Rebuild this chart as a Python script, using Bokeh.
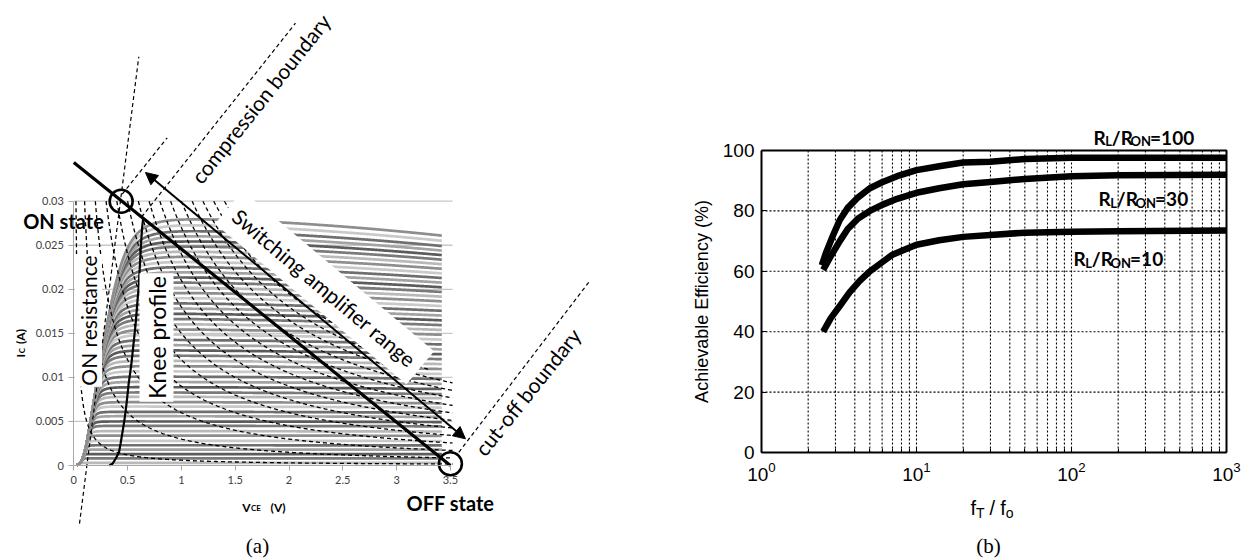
import numpy as np
from bokeh.plotting import figure
from bokeh.models import Range1d, LinearAxis, FixedTicker, Label, Arrow, NormalHead
from bokeh.layouts import row
from bokeh.embed import file_html
from bokeh.resources import INLINE

# ---------------- panel (a) data ----------------
vce_ticks = [0, 0.5, 1, 1.5, 2, 2.5, 3, 3.5]
vce_tick_labels = ["0", "0.5", "1", "1.5", "2", "2.5", "3", "3.5"]
ic_ticks = [0, 0.005, 0.01, 0.015, 0.02, 0.025, 0.03]
ic_tick_labels = ["0", "0.005", "0.01", "0.015", "0.02", "0.025", "0.03"]

# saturated collector current of each gray I-V trace (A)
ic_sat = [0.0003, 0.0008, 0.0013, 0.0018, 0.0023, 0.0028, 0.0034, 0.0039,
          0.0045, 0.0050, 0.0056, 0.0061, 0.0067, 0.0072, 0.0078, 0.0083,
          0.0089, 0.0095, 0.0101, 0.0107, 0.0113, 0.0119, 0.0125, 0.0131,
          0.0137, 0.0143, 0.0149, 0.0155, 0.0161, 0.0167, 0.0173, 0.0179,
          0.0185, 0.0191, 0.0197, 0.0203, 0.0209, 0.0215, 0.0221, 0.0227,
          0.0233, 0.0239, 0.0245, 0.0251, 0.0257, 0.0263, 0.0269, 0.0276, 0.0283]
curve_grays = ["#b9b9b9", "#7a7a7a", "#5c5c5c", "#a3a3a3", "#6f6f6f", "#c9c9c9", "#8e8e8e"]

# constant-power contours (W)
power_levels = [0.0006, 0.003, 0.006, 0.009, 0.012, 0.015, 0.018, 0.021,
                0.024, 0.027, 0.030, 0.033, 0.036, 0.039, 0.042]

knee_v = [0.33, 0.36, 0.39, 0.42, 0.435, 0.45, 0.47, 0.49, 0.51, 0.535, 0.555,
          0.575, 0.59, 0.605, 0.615, 0.625, 0.635, 0.645]
knee_i = [0.0, 0.0002, 0.0008, 0.0015, 0.0025, 0.0036, 0.0051, 0.0070, 0.0093,
          0.0115, 0.0138, 0.0161, 0.0184, 0.0206, 0.0229, 0.0252, 0.0270, 0.0281]

load_v = [0.0, 3.5]
load_i = [0.0344, 0.0]
state_v = [0.44, 3.5]
state_i = [0.0300, 0.0002]
onres_v = [0.053, 0.604]
onres_i = [-0.0066, 0.0464]
ray_v = [0.45, 0.868]
ray_i = [0.0308, 0.0372]
comp_v = [0.63, 2.06]
comp_i = [0.0282, 0.0502]
cutoff_v = [3.578, 4.786]
cutoff_i = [0.0015, 0.0208]
range_v = [0.666, 3.640]
range_i = [0.03326, 0.00303]

# ---------------- panel (b) data ----------------
ratio_100_x = [2.45, 2.6, 2.9, 3.2, 3.6, 4.2, 5.0, 6.0, 7.5, 10, 14, 20, 30, 50, 100, 200, 1000]
ratio_100_y = [62, 66, 72, 77, 81, 84.5, 87.5, 89.5, 91.5, 93.5, 94.8, 96, 96.3, 97.2, 97.6, 97.6, 97.6]
ratio_30_x = [2.5, 2.8, 3.2, 3.6, 4.2, 5.0, 6.0, 7.5, 10, 14, 20, 30, 50, 100, 200, 1000]
ratio_30_y = [60.5, 65, 70, 74, 77.5, 80, 82, 84, 86, 87.5, 88.8, 89.6, 90.6, 91.5, 91.8, 92]
ratio_10_x = [2.5, 2.8, 3.2, 3.7, 4.3, 5.0, 6.0, 7.0, 8.5, 10, 14, 20, 30, 50, 100, 200, 1000]
ratio_10_y = [40, 44.5, 48.5, 53, 56.8, 60, 63, 65.5, 67.3, 68.8, 70.3, 71.4, 72.0, 72.8, 73.1, 73.3, 73.5]
eff_ticks = [0, 20, 40, 60, 80, 100]
decades = [1, 10, 100, 1000]
ratio_names = ["100", "30", "10"]

# ---------------- helpers ----------------
LATO_B = {'R': .62, 'L': .50, 'O': .76, 'N': .74, '/': .37, '=': .58, ' ': .25}
ARIAL = {'f': .278, 'T': .611, 'o': .556, ' ': .278, '/': .278}


def text_w(s, size, table, default=0.58):
    return sum(table.get(c, default) for c in s) * size


# panel (a): page pixel -> data
AX0, AKX, AY0, AKY = 73.3, 107.6, 465.0, 8810.0


def pa_xy(px, py):
    return (px - AX0) / AKX, (AY0 - py) / AKY


# panel (b): page pixel -> data
BX0, BX3, BYT, BYB = 761.0, 1226.0, 150.0, 452.0


def pb_xy(px, py):
    return 10 ** (3 * (px - BX0) / (BX3 - BX0)), 100 * (BYB - py) / (BYB - BYT)


# ---------------- panel (a) ----------------
xr0, yr1 = pa_xy(0, 0)
xr1, yr0 = pa_xy(620, 560)
pa = figure(width=620, height=560, x_range=Range1d(xr0, xr1), y_range=Range1d(yr0, yr1),
            x_axis_type=None, y_axis_type=None, toolbar_location=None,
            output_backend="svg", min_border=0)
pa.outline_line_color = None

yax = LinearAxis(fixed_location=0, bounds=(0, 0.03), ticker=FixedTicker(ticks=ic_ticks),
                 major_label_overrides=dict(zip(ic_ticks, ic_tick_labels)))
xax = LinearAxis(fixed_location=0, bounds=(0, 3.5), ticker=FixedTicker(ticks=vce_ticks),
                 major_label_overrides=dict(zip(vce_ticks, vce_tick_labels)))
for ax in (xax, yax):
    ax.axis_line_color = "#a8a8a8"
    ax.major_tick_line_color = "#a8a8a8"
    ax.minor_tick_line_color = None
    ax.major_tick_out = 5
    ax.major_tick_in = 0
    ax.major_label_text_font = "Lato"
    ax.major_label_text_font_size = "11px"
    ax.major_label_text_color = "#404040"
    ax.major_label_standoff = 5
pa.add_layout(yax, "left")
pa.add_layout(xax, "below")

# grid lines
pa.segment(x0=0, x1=3.52, y0=ic_ticks[1:], y1=ic_ticks[1:], line_color="#c8c8c8", line_width=1.3)

# gray I-V family
vgrid = np.linspace(0.03, 3.42, 400)
s = 0.02
env = 0.075 * s * np.log1p(np.exp((vgrid - 0.09) / s))
xs, ys, cols = [], [], []
for k, isat in enumerate(ic_sat):
    cur = (env ** -4 + isat ** -4) ** (-1 / 4)
    cur = cur * (1 - 0.235 * isat * vgrid ** 2)
    xs.append(vgrid.tolist())
    ys.append(cur.tolist())
    cols.append(curve_grays[k % len(curve_grays)])
pa.multi_line(xs, ys, line_color=cols, line_width=2.7)


# constant power hyperbolas (hidden in upper right region)
def band_edge(v):
    return 0.02781 - 0.01221 * (v - 1.924)


hx, hy = [], []
for P in power_levels:
    v = np.linspace(P / 0.03, 3.52, 500)
    c = P / v
    keep = ~((c > band_edge(v)) & (c > 0.0098))
    idx = np.where(keep)[0]
    if len(idx) < 2:
        continue
    for r in np.split(idx, np.where(np.diff(idx) != 1)[0] + 1):
        if len(r) > 1:
            hx.append(v[r].tolist())
            hy.append(c[r].tolist())
pa.multi_line(hx, hy, line_color="black", line_width=1.3, line_dash="4 3")

# straight dashed boundaries
for vv, ii in ((onres_v, onres_i), (ray_v, ray_i), (comp_v, comp_i), (cutoff_v, cutoff_i)):
    pa.line(vv, ii, line_color="black", line_width=1.2, line_dash="4 3")

# knee profile
pa.line(knee_v, knee_i, line_color="black", line_width=2.2)
# load line
pa.line(load_v, load_i, line_color="black", line_width=3.2)
# ON / OFF state circles
pa.scatter(state_v, state_i, marker="circle", size=23, fill_color=None,
           line_color="black", line_width=2.6)


def alabel(text, px, py, size, angle=0.0, style="normal", bg=None, pad=0, font="Lato",
           align="center", baseline="middle"):
    x, y = pa_xy(px, py)
    lab = Label(x=x, y=y, text=text, text_font=font, text_font_size=f"{size}px",
                text_font_style=style, angle=angle, angle_units="deg",
                text_align=align, text_baseline=baseline, text_color="black")
    if bg:
        lab.background_fill_color = bg
        lab.padding = pad
    pa.add_layout(lab)


alabel("Switching amplifier range", 324, 287, 21, angle=-40, bg="white", pad=9)
alabel("compression boundary", 260, 98, 21, angle=51.5)
alabel("cut-off boundary", 527, 391, 21, angle=51.3)
alabel("Knee profile", 156, 337, 23, angle=90, bg="white", pad=3)
alabel("ON resistance", 88, 320, 21, angle=90, bg="white", pad=1)
alabel("ON state", 63, 220, 20, style="bold")
alabel("OFF state", 450, 502, 20, style="bold")
alabel("(a)", 257, 545, 21, font="Liberation Serif")

# axis titles with subscripts
alabel("V", 241.7, 506.7, 12, style="bold", align="left", baseline="alphabetic")
alabel("CE", 250.5, 507.5, 8, style="bold", align="left", baseline="alphabetic")
alabel("(V)", 270.0, 506.7, 12, style="bold", align="left", baseline="alphabetic")
alabel("I", 20.0, 357.0, 12, angle=90, style="bold", align="left", baseline="alphabetic")
alabel("C", 21.5, 352.8, 8, angle=90, style="bold", align="left", baseline="alphabetic")
alabel("(A)", 20.0, 343.5, 12, angle=90, style="bold", align="left", baseline="alphabetic")

# double arrow "switching amplifier range"
pa.add_layout(Arrow(x_start=range_v[0], y_start=range_i[0], x_end=range_v[1], y_end=range_i[1],
                    line_width=2, line_color="black",
                    start=NormalHead(size=12, fill_color="black", line_color="black"),
                    end=NormalHead(size=12, fill_color="black", line_color="black")))

# ---------------- panel (b) ----------------
bx0, by1 = pb_xy(620, 0)
bx1, by0 = pb_xy(1242, 560)
pb = figure(width=622, height=560, x_axis_type="log", x_range=Range1d(bx0, bx1),
            y_range=Range1d(by0, by1), toolbar_location=None, output_backend="svg",
            min_border=0)
pb.outline_line_color = None
for g in pb.grid:
    g.visible = False
pb.xaxis.fixed_location = 0
pb.xaxis.bounds = (decades[0], decades[-1])
pb.yaxis.fixed_location = decades[0]
pb.yaxis.bounds = (eff_ticks[0], eff_ticks[-1])
pb.yaxis.ticker = FixedTicker(ticks=eff_ticks)
for ax in (pb.xaxis[0], pb.yaxis[0]):
    ax.axis_line_color = "black"
    ax.axis_line_width = 2
    ax.major_tick_line_color = "black"
    ax.minor_tick_line_color = "black"
    ax.major_tick_in = 5
    ax.major_tick_out = 0
    ax.minor_tick_in = 4
    ax.minor_tick_out = 0
    ax.major_label_text_font = "Liberation Sans"
    ax.major_label_text_font_size = "19px"
    ax.major_label_text_color = "black"
pb.yaxis.major_label_standoff = 7
pb.xaxis.major_label_standoff = 9

# dotted grid (major + minor log positions)
grid_x = [m * d for d in decades[:-1] for m in range(1, 10)][1:]
pb.segment(x0=grid_x, x1=grid_x, y0=eff_ticks[0], y1=eff_ticks[-1],
           line_color="black", line_width=1.1, line_dash="2 2")
pb.segment(x0=decades[0], x1=decades[-1], y0=eff_ticks[1:-1], y1=eff_ticks[1:-1],
           line_color="black", line_width=1.1, line_dash="2 2")
# top / right frame edges
pb.line([decades[0], decades[-1], decades[-1]], [eff_ticks[-1], eff_ticks[-1], eff_ticks[0]],
        line_color="black", line_width=2)

for xx, yy in ((ratio_100_x, ratio_100_y), (ratio_30_x, ratio_30_y), (ratio_10_x, ratio_10_y)):
    pb.line(xx, yy, line_color="black", line_width=6.5, line_join="round")


def blabel(text, px, py, size, angle=0.0, font="Liberation Sans", style="normal",
           align="center", baseline="middle"):
    x, y = pb_xy(px, py)
    pb.add_layout(Label(x=x, y=y, text=text, text_font=font, text_font_size=f"{size}px",
                        text_font_style=style, angle=angle, angle_units="deg",
                        text_align=align, text_baseline=baseline, text_color="black"))


def compose_b(parts, px0, py0, font, table, style="normal"):
    px = px0
    for txt, size, dy, gap in parts:
        px += gap
        blabel(txt, px, py0 + dy, size, font=font, style=style, align="left",
               baseline="alphabetic")
        px += text_w(txt, size, table)


label_pos = [(1093, 136.7), (1098, 198.3), (1073, 258.3)]
for name, (lx, ly) in zip(ratio_names, label_pos):
    compose_b([("R", 19, 0, 0), ("L", 13, 4, 0), ("/R", 19, 0, 0), ("ON", 13, 4, 0),
               ("=" + name, 19, 0, 0)], lx, ly, "Lato", LATO_B, style="bold")

compose_b([("f", 20, 0, 0), ("T", 14, 5, 0), ("/", 20, 0, 5), ("f", 20, 0, 5),
           ("o", 14, 5, 0)], 970, 507, "Liberation Sans", ARIAL)
blabel("Achievable Efficiency (%)", 701, 301, 18, angle=90)
blabel("(b)", 988, 545, 21, font="Liberation Serif")

layout = row(pa, pb)
open("out.html", "w").write(file_html(layout, INLINE))
